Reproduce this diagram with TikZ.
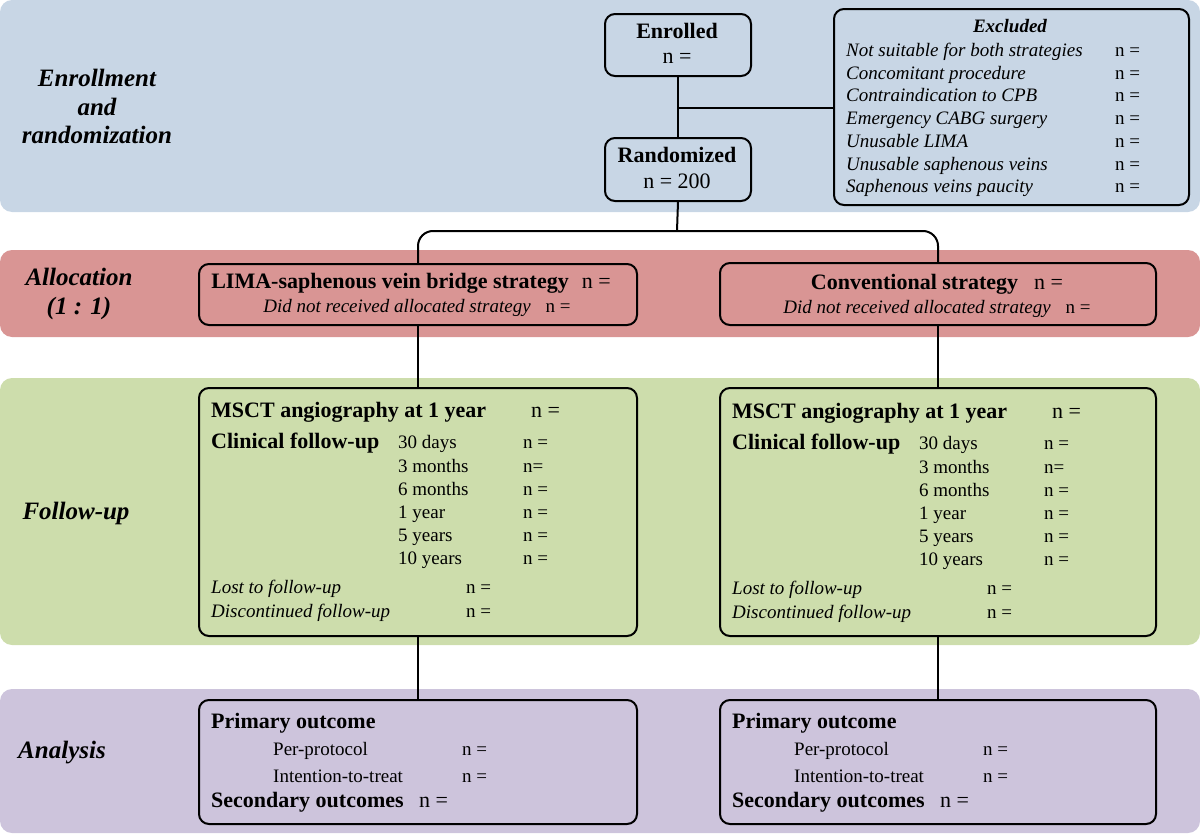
\documentclass[tikz,border=0pt]{standalone}
\usepackage{fontspec}
\setmainfont{Liberation Serif}
\definecolor{bandblue}{RGB}{200,214,229}
\definecolor{bandred}{RGB}{217,149,148}
\definecolor{bandgreen}{RGB}{205,221,172}
\definecolor{bandpurple}{RGB}{205,196,220}
\begin{document}
\begin{tikzpicture}[x=1pt,y=-1pt,
  band/.style={rounded corners=12pt},
  box/.style={draw=black, line width=2pt, rounded corners=10pt, inner sep=0pt, anchor=north west},
  conn/.style={draw=black, line width=2pt},
  txt/.style={inner sep=0pt, anchor=base west, font=\fontsize{19}{23}\selectfont},
  txti/.style={inner sep=0pt, anchor=base west, font=\fontsize{19}{23}\selectfont\itshape},
  txtb/.style={inner sep=0pt, anchor=base west, font=\fontsize{22}{26}\selectfont\bfseries},
  txtn/.style={inner sep=0pt, anchor=base west, font=\fontsize{22}{26}\selectfont},
  sidelabel/.style={inner sep=0pt, anchor=base, font=\fontsize{25}{28}\selectfont\bfseries\itshape},
]
\useasboundingbox (0,0) rectangle (1200,835);
% bands
\fill[bandblue, band] (0,0) rectangle (1200,212);
\fill[bandred, band] (0,250) rectangle (1200,337);
\fill[bandgreen, band] (0,378) rectangle (1200,645);
\fill[bandpurple, band] (0,689) rectangle (1200,833);

% side labels
\node[sidelabel] (l1) at (97,86) {Enrollment};
\node[sidelabel] (l2) at (97,115) {and};
\node[sidelabel] (l3) at (97,143) {randomization};
\node[sidelabel] (l4) at (79,285) {Allocation};
\node[sidelabel] (l5) at (79,314) {(1 : 1)};
\node[sidelabel] (l6) at (76,519) {Follow-up};
\node[sidelabel] (l7) at (62,758) {Analysis};

% boxes
\node[box, minimum width=146pt, minimum height=62pt] (enr) at (604,13) {};
\node[box, minimum width=146pt, minimum height=63pt] (rnd) at (604,137) {};
\node[box, minimum width=355pt, minimum height=196pt] (exc) at (833,8) {};
\node[box, minimum width=438pt, minimum height=61pt] (limaB) at (198,263) {};
\node[box, minimum width=436pt, minimum height=62pt] (convB) at (719,262) {};
\node[box, minimum width=438pt, minimum height=248pt] (fuL) at (198,387) {};
\node[box, minimum width=436pt, minimum height=248pt] (fuR) at (719,387) {};
\node[box, minimum width=438pt, minimum height=124pt] (anL) at (198,699) {};
\node[box, minimum width=436pt, minimum height=124pt] (anR) at (719,699) {};

% connectors
\draw[conn] (enr.south) -- (rnd.north);
\coordinate (brk) at (677,108);
\draw[conn] (brk) -- (brk -| exc.west);
\coordinate (split) at (677,231);
\draw[conn] (rnd.south) -- (split);
\draw[conn, rounded corners=15pt] (limaB.north) -- (limaB.north |- split) -- (convB.north |- split) -- (convB.north);
\draw[conn] (limaB.south) -- (fuL.north);
\draw[conn] (convB.south) -- (fuR.north);
\draw[conn] (fuL.south) -- (anL.north);
\draw[conn] (fuR.south) -- (anR.north);

% enrolled / randomized
\node[txtb, anchor=base] (enrT) at (677,38) {Enrolled};
\node[txtn, anchor=base] (enrN) at (677,63) {n =};
\node[txtb, anchor=base] (rndT) at (677,162) {Randomized};
\node[txtn, anchor=base] (rndN) at (677,188) {n = 200};

% excluded
\node[inner sep=0pt, anchor=base, font=\fontsize{19}{23}\selectfont\bfseries\itshape] (excT) at (1010,32) {Excluded};
\foreach \txtline/\yy [count=\i] in {Not suitable for both strategies/56, Concomitant procedure/79, Contraindication to CPB/101, Emergency CABG surgery/124, Unusable LIMA/147, Unusable saphenous veins/170, Saphenous veins paucity/192}{
  \node[txti] (ex\i) at (846,\yy) {\txtline};
  \node[txt] (exn\i) at (1115,\yy) {n =};
}

% allocation
\node[inner sep=0pt, anchor=base] (limaT) at (411,288) {\fontsize{22}{26}\selectfont\textbf{LIMA-saphenous vein bridge strategy}\hspace{13pt}n =};
\node[inner sep=0pt, anchor=base] (limaD) at (417,312) {\fontsize{19}{23}\selectfont\textit{Did not received allocated strategy}\hspace{15pt}n =};
\node[inner sep=0pt, anchor=base] (convT) at (937,289) {\fontsize{22}{26}\selectfont\textbf{Conventional strategy}\hspace{16pt}n =};
\node[inner sep=0pt, anchor=base] (convD) at (937,313) {\fontsize{19}{23}\selectfont\textit{Did not received allocated strategy}\hspace{15pt}n =};

% follow-up and analysis, both columns
\foreach \dx/\dy/\s in {0/0/L, 521/1/R}{
  \node[txtb] (ms\s) at (211+\dx,417+\dy) {MSCT angiography at 1 year};
  \node[txtn] (msn\s) at (531+\dx,417+\dy) {n =};
  \node[txtb] (cl\s) at (211+\dx,448+\dy) {Clinical follow-up};
  \foreach \per/\nn/\yy [count=\j] in {30 days/n =/448, 3 months/n=/472, 6 months/n =/495, 1 year/n =/518, 5 years/n =/541, 10 years/n =/564}{
    \node[txt] (per\s\j) at (398+\dx,\yy+\dy) {\per};
    \node[txt] (pern\s\j) at (523+\dx,\yy+\dy) {\nn};
  }
  \node[txti] (lost\s) at (211+\dx,593+\dy) {Lost to follow-up};
  \node[txt] (lostn\s) at (466+\dx,593+\dy) {n =};
  \node[txti] (disc\s) at (211+\dx,617+\dy) {Discontinued follow-up};
  \node[txt] (discn\s) at (466+\dx,617+\dy) {n =};
  \node[txtb] (pr\s) at (211+\dx,728) {Primary outcome};
  \node[txt] (pp\s) at (273+\dx,755) {Per-protocol};
  \node[txt] (ppn\s) at (462+\dx,755) {n =};
  \node[txt] (itt\s) at (273+\dx,782) {Intention-to-treat};
  \node[txt] (ittn\s) at (462+\dx,782) {n =};
  \node[txtb] (sec\s) at (211+\dx,807) {Secondary outcomes};
  \node[txtn] (secn\s) at (419+\dx,807) {n =};
}
\end{tikzpicture}
\end{document}
